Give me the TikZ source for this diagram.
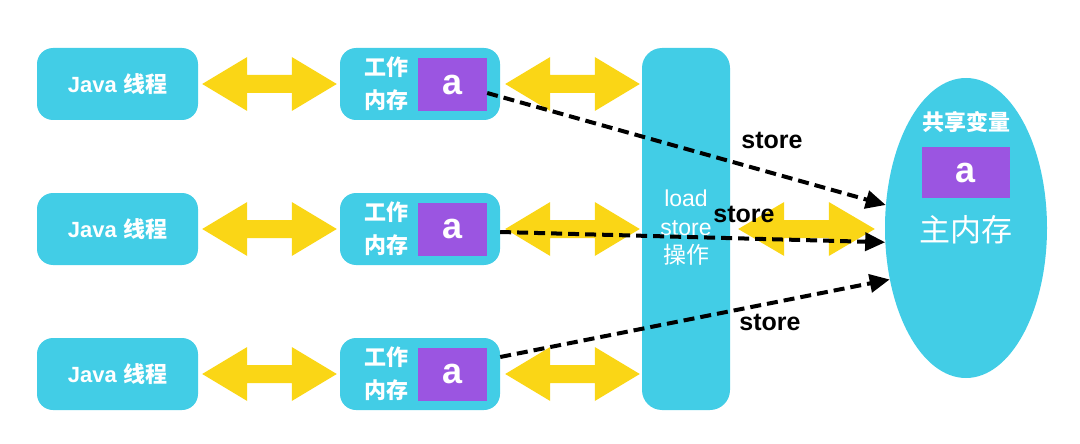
\documentclass[tikz,border=0pt]{standalone}
\usepackage{fontspec}
\setmainfont{Liberation Sans}
\newfontfamily\cjk{Noto Sans CJK SC}
\usetikzlibrary{arrows.meta,shapes.geometric,calc}
\definecolor{cy}{RGB}{66,205,230}
\definecolor{pu}{RGB}{155,85,225}
\definecolor{ye}{RGB}{250,214,22}
\tikzset{
 cbox/.style={fill=cy, rounded corners=16pt, minimum width=161pt, minimum height=72pt, inner sep=0pt, text=white, font=\bfseries\fontsize{22}{26}\selectfont},
 wbox/.style={fill=cy, rounded corners=16pt, minimum width=160pt, minimum height=72pt, inner sep=0pt},
 wtext/.style={align=center, text=white, inner sep=0pt, font=\cjk\bfseries\fontsize{22}{33}\selectfont},
 pbox/.style={fill=pu, minimum width=69pt, minimum height=53pt, inner sep=0pt, text=white, font=\bfseries\fontsize{36}{36}\selectfont},
 dsh/.style={draw=black, line width=4pt, dash pattern=on 11pt off 6pt, -{Triangle[length=20pt,width=18pt]}},
 lbl/.style={font=\bfseries\fontsize{25}{25}\selectfont, text=black, inner sep=0pt},
 wlbl/.style={align=center, text=white, inner sep=0pt},
}
\newcommand\yarr[5]{%
 \fill[ye] let \p1=(#1.east), \p2=(#2.west) in
 (\x1+#3,\y1) -- (\x1+#3+#5,\y1+27pt) -- (\x1+#3+#5,\y1+9pt) -- (\x2-#4-#5,\y1+9pt) -- (\x2-#4-#5,\y1+27pt) -- (\x2-#4,\y1)
 -- (\x2-#4-#5,\y1-27pt) -- (\x2-#4-#5,\y1-9pt) -- (\x1+#3+#5,\y1-9pt) -- (\x1+#3+#5,\y1-27pt) -- cycle;}
\begin{document}
\begin{tikzpicture}[x=1pt,y=-1pt]
\useasboundingbox (0,0) rectangle (1080,444);
% Java threads
\node[cbox] (j1) at (117.5,84) {Java {\cjk 线程}};
\node[cbox] (j2) at (117.5,229) {Java {\cjk 线程}};
\node[cbox] (j3) at (117.5,374) {Java {\cjk 线程}};
% working memory
\node[wbox] (wm1) at (420,84) {};
\node[wbox] (wm2) at (420,229) {};
\node[wbox] (wm3) at (420,374) {};
\node[wtext] (wt1) at (386,84) {工作\\内存};
\node[wtext] (wt2) at (386,229) {工作\\内存};
\node[wtext] (wt3) at (386,374) {工作\\内存};
\node[pbox] (pa1) at (452.5,84.5) {a};
\node[pbox] (pa2) at (452.5,229) {a};
\node[pbox] (pa3) at (452.5,374) {a};
% load/store column
\node[fill=cy, rounded corners=20pt, minimum width=88pt, minimum height=362pt, inner sep=0pt] (ls) at (686,229) {};
\node[wlbl, font=\fontsize{23}{28.5}\selectfont] (lst) at (686,228) {load\\store\\{\cjk 操作}};
% main memory
\node[ellipse, fill=cy, minimum width=162pt, minimum height=300pt, inner sep=0pt] (mm) at (966,228) {};
\node[wlbl, font=\cjk\bfseries\fontsize{22}{22}\selectfont] (sv) at (966,122) {共享变量};
\node[pbox, minimum width=88pt, minimum height=51pt] (pm) at (966,172.5) {a};
\node[wlbl, font=\cjk\fontsize{31}{31}\selectfont] (mt) at (966,230) {主内存};
% yellow double arrows
\yarr{j1}{wm1}{4pt}{3pt}{45pt}
\yarr{j2}{wm2}{4pt}{3pt}{45pt}
\yarr{j3}{wm3}{4pt}{3pt}{45pt}
\yarr{wm1}{ls}{5pt}{2pt}{45pt}
\yarr{wm2}{ls}{5pt}{2pt}{45pt}
\yarr{wm3}{ls}{5pt}{2pt}{45pt}
\yarr{ls}{mm}{8pt}{10pt}{46pt}
% store arrows
\draw[dsh] ([yshift=-8.5pt]pa1.east) -- (mm.164);
\draw[dsh] ([yshift=-3pt]wm2.east) -- (mm.190);
\draw[dsh] ([yshift=17pt]wm3.east) -- (mm.214);
\node[lbl] (s1) at (772,140) {store};
\node[lbl] (s2) at (744,214) {store};
\node[lbl] (s3) at (770,322) {store};
\end{tikzpicture}
\end{document}
